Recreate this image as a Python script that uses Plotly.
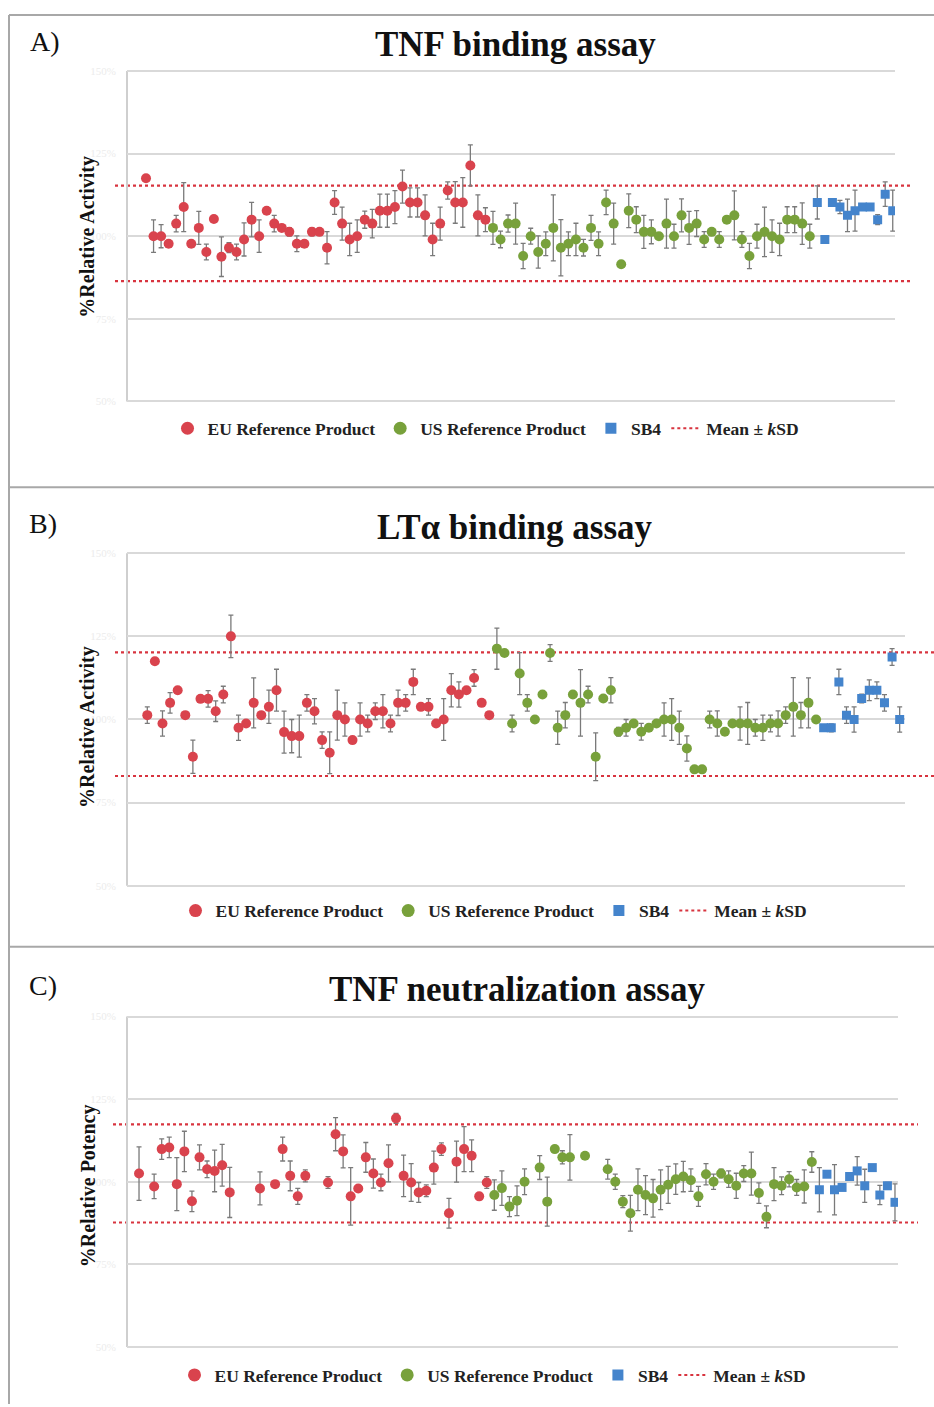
import plotly.graph_objects as go

# ---------------- DATA ----------------
# Panel A: TNF binding assay (% relative activity)
eu_a = [117.5, 100, 100, 97.7, 103.8, 108.8, 97.7, 102.5, 95.2, 105.2, 93.8, 96.5, 95.2, 99, 105, 100,
        107.7, 103.8, 102.5, 101.3, 97.7, 97.7, 101.3, 101.3, 96.5, 110.2, 103.8, 99, 100, 105, 103.8,
        107.7, 107.7, 108.8, 115, 110.2, 110.2, 106.3, 99, 103.8, 113.8, 110.2, 110.2, 121.4, 106.3, 105]
eu_a_err = [0, 4.9, 3.5, 0, 2.5, 7.4, 0, 5, 2.4, 0, 6, 1.5, 2.4, 5, 5.2, 4.9,
            0, 2.5, 0, 1.3, 2.4, 0, 1.2, 0, 4.9, 3.6, 5, 4.9, 4.9, 2.6, 4.3,
            5, 5, 5, 5, 4.4, 4.4, 6.2, 4.9, 5, 2.6, 6.3, 7.5, 6.2, 6.2, 3.6]
us_a = [102.5, 99, 103.8, 103.8, 94, 100, 95.2, 97.7, 102.5, 96.5, 97.7, 99, 96.5, 102.5, 97.7, 110.2,
        103.8, 91.5, 107.7, 105, 101.3, 101.3, 100, 103.8, 100, 106.3, 102.5, 103.8, 99, 101.3, 99,
        105, 106.3, 99, 94, 100, 101.3, 100, 99, 105, 105, 103.8, 100]
us_a_err = [5, 2.5, 2.6, 6.2, 3.8, 2.4, 4.9, 3.6, 10, 8.5, 3.6, 4.9, 2.5, 3.8, 3.6, 3.7,
            6.2, 0, 5.1, 3.9, 5, 3.6, 0, 7.4, 3.6, 5, 5, 3.9, 2.4, 0, 2.4,
            0, 7.4, 2.4, 3.8, 3.6, 7.5, 4.9, 4.9, 3.9, 3.9, 6.3, 3.6]
sb4_a = [110.2, 99, 110.2, 108.8, 106.3, 107.7, 108.8, 108.8, 105, 112.7, 107.7]
sb4_a_err = [5, 0, 0, 2, 4.9, 6.2, 0, 0, 1.5, 3.7, 6.2]
limits_a = [115.3, 86.4]

# Panel B: LTα binding assay (% relative activity)
eu_b = [101.3, 117.5, 98.8, 105, 108.8, 101.3, 88.8, 106.2, 106.2, 102.5, 107.5, 125, 97.5, 98.8, 105,
        101.3, 103.8, 108.8, 96.2, 95, 95, 105, 102.5, 93.8, 90, 101.3, 100, 93.8, 100, 98.8, 102.5,
        102.5, 98.8, 105, 105, 111.3, 103.8, 103.8, 98.8, 100, 108.8, 107.5, 108.8, 112.5, 105, 101.3]
eu_b_err = [2.5, 0, 3.8, 3.1, 0, 0, 5, 0, 2.5, 3.1, 2.5, 6.4, 3.8, 0, 7.5,
            0, 5, 6.3, 6.3, 5, 6.3, 2.5, 3.8, 2.5, 6.3, 7.5, 5, 0, 5, 2.5, 2.5,
            5, 2.5, 3.8, 2.5, 3.8, 0, 2.5, 0, 6.3, 5, 3.8, 0, 2.5, 0, 0]
us_b = [121.3, 120, 98.8, 113.8, 105, 100, 107.5, 120, 97.5, 101.3, 107.5, 105, 107.5, 88.8, 106.3,
        108.8, 96.3, 97.5, 98.8, 96.3, 97.5, 98.8, 100, 100, 97.5, 91.3, 85, 85, 100, 98.8, 96.3,
        98.8, 98.8, 98.8, 97.5, 97.5, 98.8, 98.8, 101.3, 103.8, 101.3, 105, 100]
us_b_err = [6.2, 0, 2.5, 6.3, 2.5, 0, 0, 2.5, 5, 3.8, 0, 10, 2.5, 7.2, 0,
            3.8, 1.3, 2.5, 0, 2.5, 0, 0, 5, 6.3, 5, 3.8, 0, 0, 2.5, 3.8, 0,
            0, 5, 6.3, 2.5, 3.8, 2.5, 3.8, 2.5, 8.8, 3.8, 7.5, 0]
sb4_b = [97.5, 97.5, 111.3, 101.3, 100, 106.3, 108.8, 108.8, 105, 118.8, 100]
sb4_b_err = [0, 1.2, 3.8, 2.5, 3.8, 1.3, 3.1, 2.5, 2.5, 2.5, 3.8]
limits_b = [120.2, 83.0]

# Panel C: TNF neutralization assay (% relative potency); None = lot without a result
eu_c = [102.5, None, 98.6, 109.9, 110.4, 99.3, 109.2, 94.1, 107.4, 103.8, 103.3, 105, 96.8,
        None, None, None, 98, None, 99.3, 109.9, 101.8, 95.6, 101.8, None, None, 99.8, 114.4,
        109.2, 95.6, 98, 107.4, 102.5, 99.8, 105.6, 119.2, 101.8, 99.8, 96.8, 97.3, 104.3,
        109.9, 90.5, 106.1, 109.9, 107.9, 95.6, 99.8]
eu_c_err = [8.1, 0, 3.7, 3.1, 3.1, 8, 6.1, 3.1, 3.8, 2.5, 6.3, 6.3, 7.6,
            0, 0, 0, 5, 0, 0, 3.6, 4.5, 2.4, 1.8, 0, 0, 1.8, 5,
            5, 8.7, 0, 4.5, 4.4, 2.5, 5.6, 1.5, 6.3, 5.7, 3, 1.8, 5,
            1.9, 4.5, 6.2, 6.8, 4.8, 0, 1.8]
us_c = [96, 98.1, 92.5, 94.3, 100, None, 104.3, 94, 109.9, 107.4, 107.4, None, 107.9, None, None,
        103.8, 100, 94, 90.5, 97.6, 96, 95, 97.6, 99.1, 100.8, 101.6, 100.5, 95.6, 102.3, 100,
        102.5, 100.8, 98.8, 102.5, 102.5, 96.6, 89.4, 99.3, 98.8, 100.8, 98.3, 98.6, 106]
us_c_err = [4.6, 5.2, 3, 4.5, 3.9, 0, 3.6, 7.4, 0, 2, 6.9, 0, 0, 0, 0,
            3, 2.3, 1.8, 5.4, 6.3, 5.9, 5.7, 6, 5.6, 4.6, 4.6, 3.4, 3, 3.2, 2.3,
            1.3, 2.5, 3.8, 2.4, 6.5, 3.1, 3.3, 5, 2.7, 2.3, 2.4, 5, 3.1]
sb4_c = [97.6, 102.3, 97.6, 98.3, 101.6, 103.3, 98.8, 104.3, 96, 98.8, 93.8]
sb4_c_err = [6.7, 0, 7.6, 0, 0, 4.3, 5, 0, 2.9, 1, 5.6]
limits_c = [117.4, 87.7]

series_names = ["EU Reference Product", "US Reference Product", "SB4"]
limit_name = "Mean ± <i>k</i>SD"
titles = ["TNF binding assay", "LTα binding assay", "TNF neutralization assay"]
panel_tags = ["A)", "B)", "C)"]
ylabels = ["%Relative Activity", "%Relative Activity", "%Relative Potency"]
ytick_vals = [50, 75, 100, 125, 150]
ytick_text = ["50%", "75%", "100%", "125%", "150%"]

# ---------------- STYLE ----------------
W, H = 934, 1407
SERIF = "Liberation Serif, Times New Roman, serif"
RED, GREEN, BLUE = "#d9434d", "#78a13b", "#4484cc"
LIMIT_COLOR = "#d8343f"
ERR_COLOR = "#7a7a7a"
GRID = "#d9d9d9"
PAD = 1.5  # y-range padding (units) so edge gridlines are drawn

def px(x):
    return x / W

def py(y):
    return 1 - y / H

panels = [
    dict(eu=(eu_a, eu_a_err), us=(us_a, us_a_err), sb=(sb4_a, sb4_a_err), lim=limits_a,
         xdom=(127, 895), ytop=70, ybot=401, xr=(-2.52, 99.3), dot=(115, 912),
         title_xy=(515, 44), tag_xy=(28, 41), ylab_xy=(88, 236), leg_xy=(486, 428)),
    dict(eu=(eu_b, eu_b_err), us=(us_b, us_b_err), sb=(sb4_b, sb4_b_err), lim=limits_b,
         xdom=(127, 905), ytop=553, ybot=886, xr=(-2.67, 99.7), dot=(115, 934),
         title_xy=(515, 527), tag_xy=(27, 523), ylab_xy=(88, 727), leg_xy=(494, 911)),
    dict(eu=(eu_c, eu_c_err), us=(us_c, us_c_err), sb=(sb4_c, sb4_c_err), lim=limits_c,
         xdom=(127, 898), ytop=1017, ybot=1348, xr=(-1.59, 100.4), dot=(113, 918),
         title_xy=(517, 990), tag_xy=(27, 986), ylab_xy=(88, 1187), leg_xy=(493, 1376)),
]

fig = go.Figure()
shapes = []
annotations = []
layout = {}

for i, p in enumerate(panels):
    n = i + 1
    xa = "x" if n == 1 else f"x{n}"
    ya = "y" if n == 1 else f"y{n}"
    leg = "legend" if n == 1 else f"legend{n}"
    xkey = "xaxis" if n == 1 else f"xaxis{n}"
    ykey = "yaxis" if n == 1 else f"yaxis{n}"

    eu_v, eu_e = p["eu"]
    us_v, us_e = p["us"]
    sb_v, sb_e = p["sb"]
    n_eu, n_us, n_sb = len(eu_v), len(us_v), len(sb_v)
    x_eu = list(range(0, n_eu))
    x_us = list(range(n_eu, n_eu + n_us))
    x_sb = list(range(n_eu + n_us, n_eu + n_us + n_sb))

    for xs, vals, errs, color, sym, name in [
        (x_eu, eu_v, eu_e, RED, "circle", series_names[0]),
        (x_us, us_v, us_e, GREEN, "circle", series_names[1]),
        (x_sb, sb_v, sb_e, BLUE, "square", series_names[2]),
    ]:
        fig.add_trace(go.Scatter(
            x=xs, y=vals, mode="markers", xaxis=xa, yaxis=ya, showlegend=False,
            marker=dict(color=color, size=10 if sym == "circle" else 9, symbol=sym, line=dict(width=0)),
            error_y=dict(type="data", array=errs, visible=True, color=ERR_COLOR, thickness=1.3, width=2.5),
            name=name, hoverinfo="skip"))
        # legend entry
        fig.add_trace(go.Scatter(
            x=[None], y=[None], mode="markers", xaxis=xa, yaxis=ya, legend=leg, name=name,
            marker=dict(color=color, size=13 if sym == "circle" else 11, symbol=sym)))
    fig.add_trace(go.Scatter(
        x=[None], y=[None], mode="lines", xaxis=xa, yaxis=ya, legend=leg, name=limit_name,
        line=dict(color=LIMIT_COLOR, width=2, dash="dot")))

    for lv in p["lim"]:
        shapes.append(dict(type="line", xref="paper", yref=ya, x0=px(p["dot"][0]), x1=px(p["dot"][1]),
                           y0=lv, y1=lv, line=dict(color=LIMIT_COLOR, width=2.2, dash="dot"), layer="below"))
    # left axis line (from 50 to 150)
    shapes.append(dict(type="line", xref="paper", yref=ya, x0=px(p["xdom"][0]), x1=px(p["xdom"][0]),
                       y0=ytick_vals[0], y1=ytick_vals[-1], line=dict(color="#cfcfcf", width=2), layer="below"))

    ppu = (p["ybot"] - p["ytop"]) / (ytick_vals[-1] - ytick_vals[0])
    layout[xkey] = dict(domain=[px(p["xdom"][0]), px(p["xdom"][1])], range=list(p["xr"]),
                        showgrid=False, zeroline=False, showticklabels=False, ticks="",
                        showline=False, anchor=ya)
    layout[ykey] = dict(domain=[py(p["ybot"] + PAD * ppu), py(p["ytop"] - PAD * ppu)],
                        range=[ytick_vals[0] - PAD, ytick_vals[-1] + PAD],
                        tickvals=ytick_vals, ticktext=ytick_text,
                        tickfont=dict(family=SERIF, size=11, color="#ececec"),
                        showgrid=True, gridcolor=GRID, gridwidth=2, zeroline=False,
                        showline=False, ticks="", ticklabelstandoff=10, anchor=xa)
    layout[leg] = dict(orientation="h", x=px(p["leg_xy"][0]), y=py(p["leg_xy"][1]),
                       xanchor="center", yanchor="middle", bgcolor="rgba(0,0,0,0)",
                       font=dict(family=SERIF, size=17.5, color="#222222", weight="bold"),
                       itemsizing="trace", tracegroupgap=0, itemwidth=30)

    annotations.append(dict(text=f"<b>{titles[i]}</b>", x=px(p["title_xy"][0]), y=py(p["title_xy"][1]),
                            xref="paper", yref="paper", xanchor="center", yanchor="middle",
                            showarrow=False, font=dict(family=SERIF, size=35, color="#111111")))
    annotations.append(dict(text=panel_tags[i], x=px(p["tag_xy"][0]), y=py(p["tag_xy"][1]),
                            xref="paper", yref="paper", xanchor="left", yanchor="middle",
                            showarrow=False, font=dict(family=SERIF, size=28, color="#111111")))
    annotations.append(dict(text=f"<b>{ylabels[i]}</b>", x=px(p["ylab_xy"][0]), y=py(p["ylab_xy"][1]),
                            xref="paper", yref="paper", xanchor="center", yanchor="middle",
                            textangle=-90, showarrow=False,
                            font=dict(family=SERIF, size=20, color="#111111")))

# frame lines
FRAME = "#a8a8a8"
shapes.append(dict(type="line", xref="paper", yref="paper", x0=px(9), x1=1, y0=py(14), y1=py(14),
                   line=dict(color=FRAME, width=2)))
shapes.append(dict(type="line", xref="paper", yref="paper", x0=px(9), x1=px(9), y0=py(14), y1=py(1405),
                   line=dict(color=FRAME, width=2)))
for yy in (487, 947):
    shapes.append(dict(type="line", xref="paper", yref="paper", x0=px(9), x1=1, y0=py(yy), y1=py(yy),
                       line=dict(color=FRAME, width=2)))

fig.update_layout(
    width=W, height=H, margin=dict(l=0, r=0, t=0, b=0),
    paper_bgcolor="white", plot_bgcolor="white",
    shapes=shapes, annotations=annotations, **layout)

fig.write_html("out.html")
